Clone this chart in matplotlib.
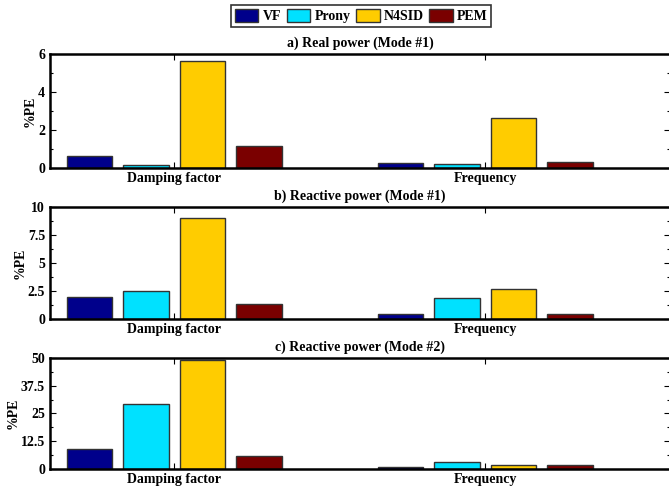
import matplotlib.pyplot as plt
from matplotlib.ticker import MultipleLocator
import numpy as np

plt.rcParams['font.family'] = ['Liberation Serif', 'DejaVu Serif']
plt.rcParams['font.weight'] = 'bold'

methods = ['VF', 'Prony', 'N4SID', 'PEM']
colors = ['#00008B', '#00E1FF', '#FFCC00', '#7A0000']
params = ['Damping factor', 'Frequency']

titles = ['a) Real power (Mode #1)',
          'b) Reactive power (Mode #1)',
          'c) Reactive power (Mode #2)']

# %PE per method, [damping factor, frequency]
real_m1 = [[0.63, 0.25], [0.14, 0.21], [5.64, 2.65], [1.15, 0.30]]
react_m1 = [[1.95, 0.47], [2.50, 1.90], [9.00, 2.70], [1.34, 0.47]]
react_m2 = [[8.9, 1.0], [29.2, 3.15], [48.9, 1.8], [5.9, 1.8]]

panels = [real_m1, react_m1, react_m2]
ylims = [6, 10, 50]
majors = [2, 2.5, 12.5]

fig = plt.figure(figsize=(6.69, 4.87), dpi=100)
boxes = [[0.0747, 0.655, 0.927, 0.234],
         [0.0747, 0.345, 0.927, 0.230],
         [0.0747, 0.037, 0.927, 0.228]]

x = np.array([1, 2])
step = 0.182
width = 0.146

for k in range(3):
    ax = fig.add_axes(boxes[k])
    data = panels[k]
    for i, m in enumerate(methods):
        ax.bar(x + (i - 1.5) * step, data[i], width, color=colors[i],
               edgecolor='#333333', linewidth=1.0, label=m, zorder=2)
    ax.set_xlim(0.6, 2.595)
    ax.set_ylim(0, ylims[k])
    ax.yaxis.set_major_locator(MultipleLocator(majors[k]))
    ax.yaxis.set_minor_locator(MultipleLocator(majors[k] / 2))
    ax.yaxis.set_major_formatter(plt.FuncFormatter(lambda v, p: f'{v:g}'))
    ax.set_xticks(x)
    ax.set_xticklabels(params, fontsize=10, fontweight='bold')
    ax.tick_params(axis='both', which='both', direction='in', top=True, right=True,
                   width=0.8, labelsize=10)
    ax.tick_params(which='major', length=4)
    ax.tick_params(which='minor', length=2.5)
    ax.tick_params(axis='x', pad=3)
    for s in ['left', 'top', 'bottom']:
        ax.spines[s].set_linewidth(1.8)
    ax.spines['right'].set_visible(False)
    ax.set_ylabel('%PE', fontsize=10, fontweight='bold', labelpad=1)
    ax.set_title(titles[k], fontsize=10, fontweight='bold', pad=5)
    if k == 0:
        handles, labels = ax.get_legend_handles_labels()

leg = fig.legend(handles, labels, loc='upper center', bbox_to_anchor=(0.54, 0.995),
                 ncol=4, frameon=True, fancybox=False, edgecolor='black',
                 prop={'weight': 'bold', 'size': 10}, handlelength=1.7,
                 handleheight=1.1, handletextpad=0.3, columnspacing=0.4,
                 borderpad=0.25, borderaxespad=0.2)
leg.get_frame().set_linewidth(1.2)

fig.savefig('out.png', dpi=100)
